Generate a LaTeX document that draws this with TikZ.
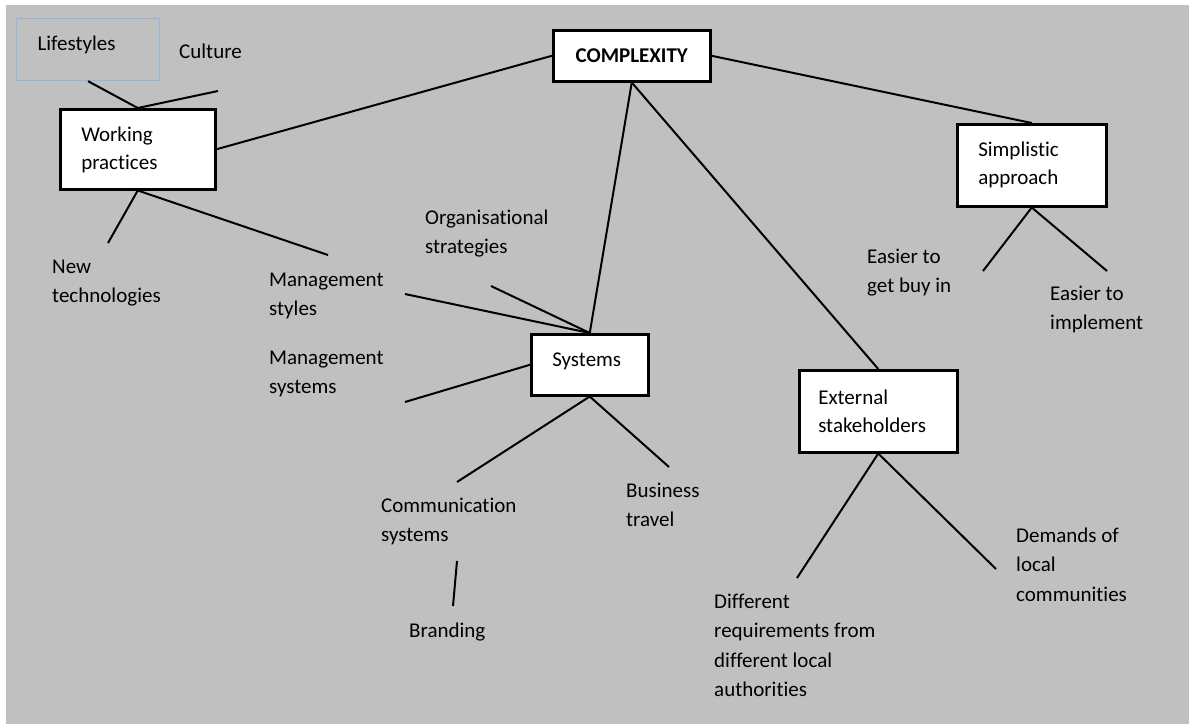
\documentclass[tikz,border=0pt]{standalone}
\usepackage{fontspec}
\setmainfont{Carlito}[Ligatures=NoCommon]
\definecolor{bggray}{RGB}{192,192,192}
\definecolor{lsblue}{RGB}{149,179,215}
\begin{document}
\begin{tikzpicture}[x=1pt,y=-1pt,
  conn/.style={line width=2pt,draw=black},
  mbox/.style={draw=black,fill=white,line width=2.5pt,anchor=north west,inner xsep=20pt,inner ysep=0pt,align=flush left,font=\fontsize{21}{28}\selectfont},
  lbl/.style={anchor=base west,inner sep=0pt,align=flush left,text width=230pt,font=\fontsize{21}{29.5}\selectfont},
]
\useasboundingbox (0,0) rectangle (1189,724);
\fill[white] (0,0) rectangle (1189,724);
\fill[bggray] (6,5) rectangle (1189,724);

% boxes
\node[mbox,draw=lsblue,fill=none,line width=1.2pt,text width=101pt,inner xsep=21pt,text height=32pt,text depth=30pt] (ls) at (16,18) {Lifestyles};
\node[mbox,text width=113pt,inner xsep=21pt,text height=32pt,text depth=48pt] (wp) at (59,108) {Working\\practices};
\node[mbox,align=center,text width=117pt,text height=32pt,text depth=19pt,font=\fontsize{21}{28}\selectfont\bfseries] (cx) at (552,29) {COMPLEXITY};
\node[mbox,text width=107pt,inner xsep=21pt,text height=32pt,text depth=50pt] (sp) at (956,123) {Simplistic\\approach};
\node[mbox,text width=77pt,text height=32pt,text depth=29pt] (sys) at (530,333) {\hspace*{1pt}Systems};
\node[mbox,text width=120pt,inner xsep=19pt,text height=34pt,text depth=48pt] (ext) at (798,369) {External\\stakeholders};

% labels
\node[lbl] (cult) at (179,58) {Culture};
\node[lbl] (nt) at (52,273) {New\\technologies};
\node[lbl] (ms) at (269,286) {Management\\styles};
\node[lbl] (os) at (425,224) {Organisational\\strategies};
\node[lbl] (msys) at (269,364) {Management\\systems};
\node[lbl] (comm) at (381,512) {Communication\\systems};
\node[lbl] (bus) at (626,497) {Business\\travel};
\node[lbl] (br) at (409,637) {Branding};
\node[lbl] (dif) at (714,608) {Different\\requirements from\\different local\\authorities};
\node[lbl] (dem) at (1016,542) {Demands of\\local\\communities};
\node[lbl] (eb) at (867,263) {Easier to\\get buy in};
\node[lbl] (ei) at (1050,300) {Easier to\\implement};

% free ends
\coordinate (cultEnd) at (218,91);
\coordinate (ntEnd) at (108,243);
\coordinate (msEndA) at (328,255);
\coordinate (msEndB) at (405,294);
\coordinate (osEnd) at (491,286);
\coordinate (msysEnd) at (405,402);
\coordinate (commEnd) at (457,482);
\coordinate (busEnd) at (669,467);
\coordinate (brA) at (457,561);
\coordinate (brB) at (453,606);
\coordinate (difEnd) at (797,578);
\coordinate (demEnd) at (996,569);
\coordinate (ebEnd) at (983,271);
\coordinate (eiEnd) at (1107,271);

% connectors
\draw[conn] (ls.south) -- (wp.north);
\draw[conn] (wp.north) -- (cultEnd);
\draw[conn] (wp.east) -- (cx.west);
\draw[conn] (cx.east) -- (sp.north);
\draw[conn] (cx.south) -- (sys.north);
\draw[conn] (cx.south) -- (ext.north);
\draw[conn] (wp.south) -- (ntEnd);
\draw[conn] (wp.south) -- (msEndA);
\draw[conn] (msEndB) -- (sys.north);
\draw[conn] (osEnd) -- (sys.north);
\draw[conn] (msysEnd) -- (sys.west);
\draw[conn] (sys.south) -- (commEnd);
\draw[conn] (sys.south) -- (busEnd);
\draw[conn] (brA) -- (brB);
\draw[conn] (ext.south) -- (difEnd);
\draw[conn] (ext.south) -- (demEnd);
\draw[conn] (sp.south) -- (ebEnd);
\draw[conn] (sp.south) -- (eiEnd);
\end{tikzpicture}
\end{document}
